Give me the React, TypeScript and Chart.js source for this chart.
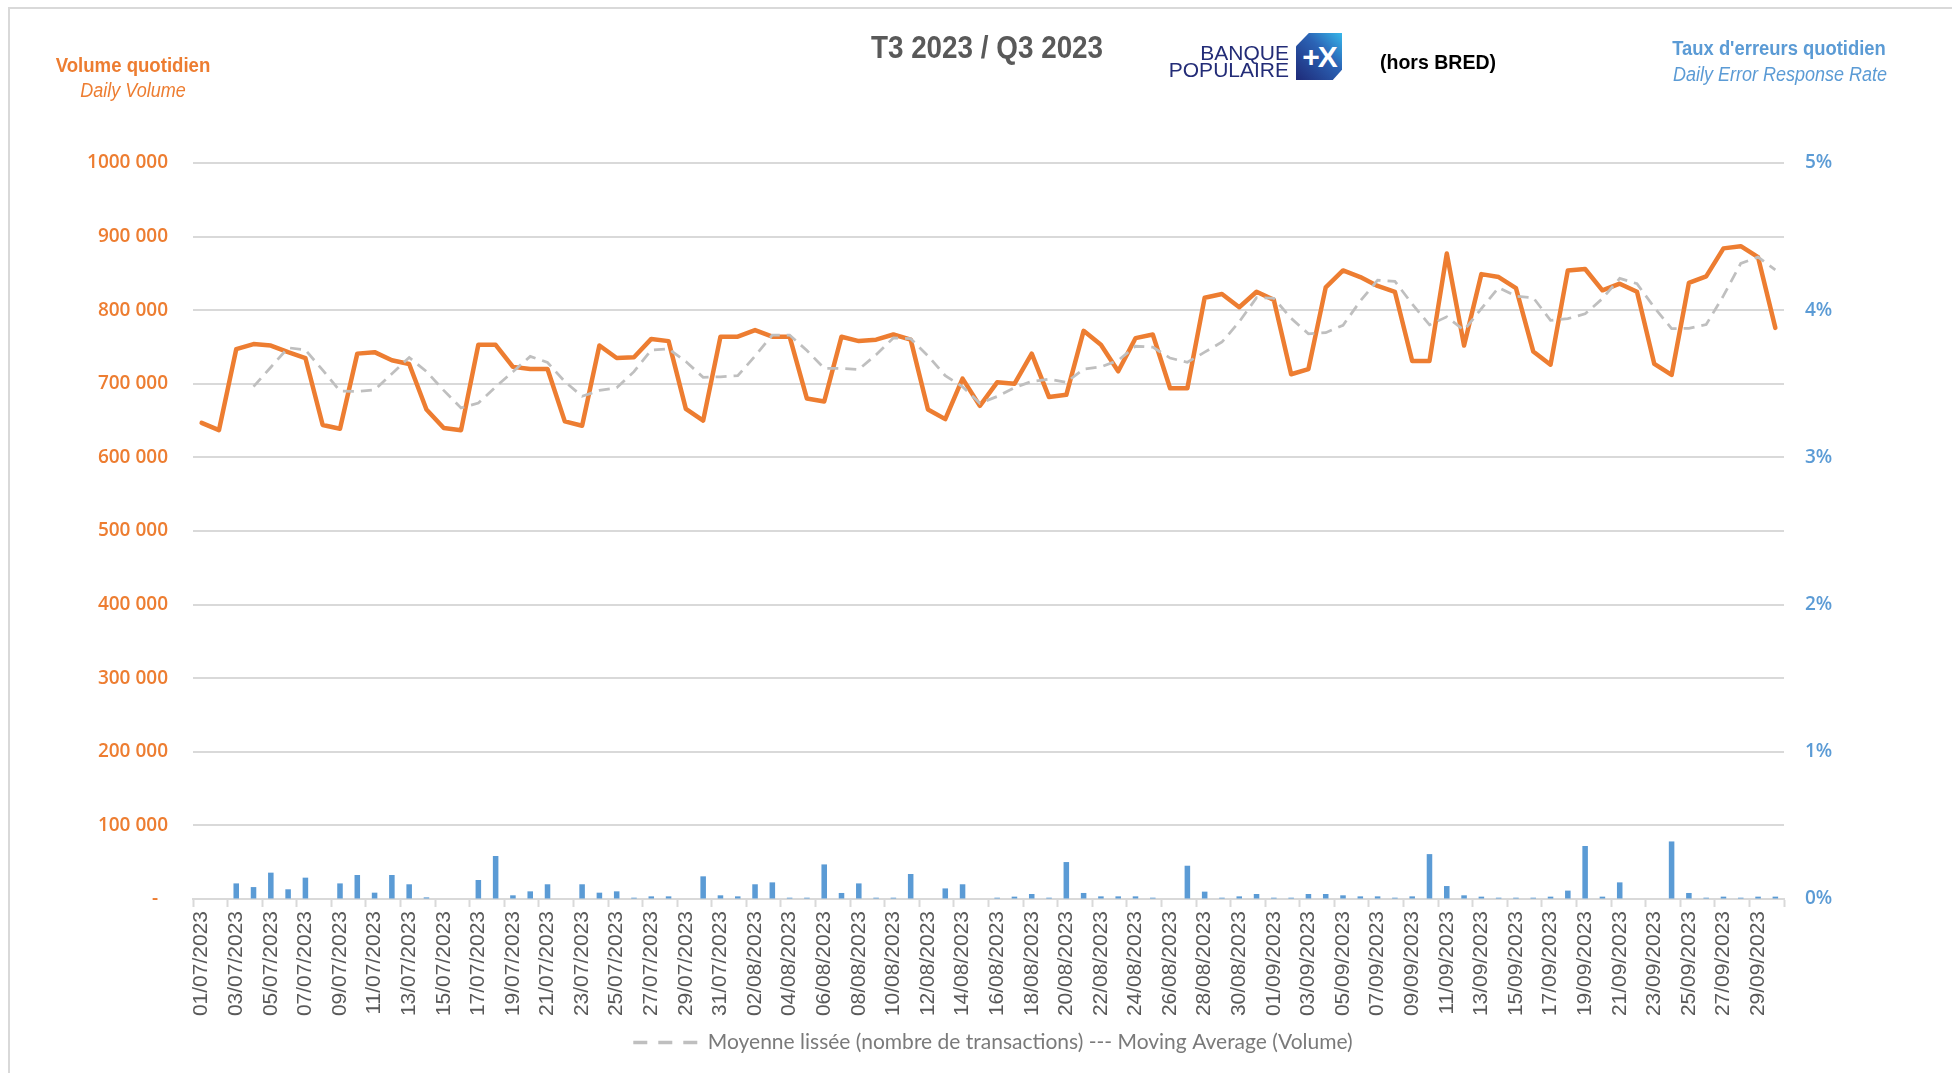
import React, { useEffect, useRef } from 'react';
import { Chart, registerables } from 'chart.js';
Chart.register(...registerables);

const dates: string[] = [
  '01/07/2023','02/07/2023','03/07/2023','04/07/2023','05/07/2023','06/07/2023','07/07/2023','08/07/2023','09/07/2023','10/07/2023',
  '11/07/2023','12/07/2023','13/07/2023','14/07/2023','15/07/2023','16/07/2023','17/07/2023','18/07/2023','19/07/2023','20/07/2023',
  '21/07/2023','22/07/2023','23/07/2023','24/07/2023','25/07/2023','26/07/2023','27/07/2023','28/07/2023','29/07/2023','30/07/2023',
  '31/07/2023','01/08/2023','02/08/2023','03/08/2023','04/08/2023','05/08/2023','06/08/2023','07/08/2023','08/08/2023','09/08/2023',
  '10/08/2023','11/08/2023','12/08/2023','13/08/2023','14/08/2023','15/08/2023','16/08/2023','17/08/2023','18/08/2023','19/08/2023',
  '20/08/2023','21/08/2023','22/08/2023','23/08/2023','24/08/2023','25/08/2023','26/08/2023','27/08/2023','28/08/2023','29/08/2023',
  '30/08/2023','31/08/2023','01/09/2023','02/09/2023','03/09/2023','04/09/2023','05/09/2023','06/09/2023','07/09/2023','08/09/2023',
  '09/09/2023','10/09/2023','11/09/2023','12/09/2023','13/09/2023','14/09/2023','15/09/2023','16/09/2023','17/09/2023','18/09/2023',
  '19/09/2023','20/09/2023','21/09/2023','22/09/2023','23/09/2023','24/09/2023','25/09/2023','26/09/2023','27/09/2023','28/09/2023',
  '29/09/2023','30/09/2023',
];

// Daily volume (number of transactions)
const dailyVolume: number[] = [
  647000, 637000, 747000, 754000, 752000, 743000, 735000, 644000, 639000, 741000,
  743000, 732000, 727000, 665000, 640000, 637000, 753000, 753000, 723000, 720000,
  720000, 649000, 643000, 752000, 735000, 736000, 761000, 758000, 666000, 650000,
  764000, 764000, 773000, 764000, 764000, 680000, 676000, 764000, 758000, 760000,
  767000, 760000, 665000, 652000, 707000, 670000, 702000, 700000, 741000, 682000,
  685000, 772000, 753000, 717000, 762000, 767000, 694000, 694000, 817000, 822000,
  804000, 825000, 814000, 713000, 720000, 831000, 854000, 845000, 833000, 825000,
  731000, 731000, 877000, 752000, 849000, 845000, 830000, 744000, 726000, 854000,
  856000, 827000, 836000, 825000, 727000, 712000, 837000, 846000, 884000, 887000,
  872000, 776000,
];

// Moving average (grey dashed)
const movingAverage: (number | null)[] = [
  null, null, null, 696250, 722500, 749000, 746000, 718500, 690250, 689750,
  691750, 713750, 735750, 716750, 691000, 667250, 673750, 695750, 716500, 737250,
  729000, 703000, 683000, 691000, 694750, 716500, 746000, 747500, 730250, 708750,
  709500, 711000, 737750, 766250, 766250, 745250, 721000, 721000, 719500, 739500,
  762250, 761250, 738000, 711000, 696000, 673500, 682750, 694750, 703250, 706250,
  702000, 720000, 723000, 731750, 751000, 749750, 735000, 729250, 743000, 756750,
  784250, 817000, 816250, 789000, 768000, 769500, 779500, 812500, 840750, 839250,
  808500, 780000, 791000, 772750, 802250, 830750, 819000, 817000, 786250, 788500,
  795000, 815750, 843250, 836000, 803750, 775000, 775250, 780500, 819750, 863500,
  872250, 854750,
];

// Daily error response rate (%)
const errorRate: number[] = [
  0, 0, 0.106, 0.081, 0.179, 0.066, 0.145, 0, 0.106, 0.163,
  0.043, 0.163, 0.100, 0.011, 0, 0, 0.129, 0.292, 0.025, 0.052,
  0.100, 0, 0.100, 0.043, 0.052, 0.009, 0.018, 0.018, 0, 0.154,
  0.025, 0.018, 0.100, 0.113, 0.009, 0.009, 0.235, 0.041, 0.106, 0.009,
  0.009, 0.170, 0, 0.072, 0.100, 0, 0.009, 0.016, 0.034, 0.009,
  0.251, 0.041, 0.018, 0.018, 0.018, 0.009, 0, 0.226, 0.050, 0.009,
  0.018, 0.034, 0.009, 0.009, 0.034, 0.034, 0.025, 0.018, 0.018, 0.009,
  0.018, 0.305, 0.088, 0.025, 0.016, 0.009, 0.009, 0.009, 0.016, 0.057,
  0.360, 0.016, 0.113, 0, 0, 0.391, 0.041, 0.009, 0.016, 0.009,
  0.016, 0.016,
];

const volumeTicks: number[] = [0, 100000, 200000, 300000, 400000, 500000, 600000, 700000, 800000, 900000, 1000000];
const rateTicks: number[] = [0, 1, 2, 3, 4, 5];

const titleText = 'T3 2023 / Q3 2023';
const leftTitle = 'Volume quotidien';
const leftSubtitle = 'Daily Volume';
const rightTitle = "Taux d'erreurs quotidien";
const rightSubtitle = 'Daily Error Response Rate';
const scopeText = '(hors BRED)';
const maLabel = 'Moyenne lissée (nombre de transactions) --- Moving Average (Volume)';

const ORANGE = '#ED7D31';
const BLUE = '#5B9BD5';
const GRID = '#D9D9D9';

const Txt = ({ x, y, sx = 1, style, children }: any) => (
  <div
    style={{
      position: 'absolute',
      left: x,
      top: y,
      transform: `translate(-50%, -50%) scaleX(${sx})`,
      whiteSpace: 'nowrap',
      lineHeight: 1,
      fontFamily: "'Liberation Sans', Arial, sans-serif",
      ...style,
    }}
  >
    {children}
  </div>
);

export default function App() {
  const ref = useRef<HTMLCanvasElement>(null);

  useEffect(() => {
    const canvas = ref.current!;
    const chart = new Chart(canvas, {
      type: 'bar',
      data: {
        labels: dates,
        datasets: [
          {
            type: 'line',
            label: maLabel,
            data: movingAverage,
            yAxisID: 'y',
            borderColor: '#BFBFBF',
            backgroundColor: '#BFBFBF',
            borderWidth: 2.75,
            borderDash: [11, 7],
            pointRadius: 0,
            tension: 0,
            spanGaps: false,
          } as any,
          {
            type: 'line',
            label: 'Volume quotidien',
            data: dailyVolume,
            yAxisID: 'y',
            borderColor: ORANGE,
            backgroundColor: ORANGE,
            borderWidth: 4.5,
            borderJoinStyle: 'round',
            borderCapStyle: 'round',
            pointRadius: 0,
            tension: 0,
          } as any,
          {
            type: 'bar',
            label: "Taux d'erreurs",
            data: errorRate,
            yAxisID: 'y1',
            backgroundColor: BLUE,
            borderWidth: 0,
            barPercentage: 0.32,
            categoryPercentage: 1,
          } as any,
        ],
      },
      options: {
        animation: false,
        responsive: false,
        devicePixelRatio: 1,
        layout: { padding: { left: 34, top: 163, right: 0, bottom: 10 } },
        plugins: {
          tooltip: { enabled: false },
          legend: {
            position: 'bottom',
            labels: {
              usePointStyle: true,
              pointStyle: 'line',
              pointStyleWidth: 64,
              color: '#7A7A7A',
              font: { family: 'Lato', size: 21 },
              padding: 10,
              filter: (item: any) => item.datasetIndex === 0,
              generateLabels: (c: any) => {
                const items = (Chart.defaults.plugins.legend.labels as any).generateLabels(c);
                items.forEach((it: any) => {
                  it.strokeStyle = '#BFBFBF';
                  it.fillStyle = '#BFBFBF';
                  it.lineWidth = 3.5;
                  it.lineDash = [14, 11];
                  it.pointStyle = 'line';
                });
                return items;
              },
            },
          },
        },
        scales: {
          x: {
            offset: true,
            grid: {
              display: true,
              drawOnChartArea: false,
              offset: true,
              tickLength: 8,
              tickWidth: 2,
              tickColor: (ctx: any) => (ctx.type !== 'tick' || ctx.index % 2 === 0 ? GRID : 'rgba(0,0,0,0)'),
            },
            border: { display: true, color: GRID, width: 2 },
            ticks: {
              autoSkip: false,
              maxRotation: 90,
              minRotation: 90,
              padding: 4,
              color: '#595959',
              font: { family: "'Liberation Sans', Arial", size: 21 },
              callback: function (this: any, v: any, i: number) {
                return i % 2 === 0 ? dates[i] : '';
              },
            },
            afterFit: (s: any) => {
              s.height = 123;
            },
          },
          y: {
            position: 'left',
            min: volumeTicks[0],
            max: volumeTicks[volumeTicks.length - 1],
            afterBuildTicks: (s: any) => {
              s.ticks = volumeTicks.map((v) => ({ value: v }));
            },
            ticks: {
              padding: 25,
              color: ORANGE,
              font: { family: "'Open Sans'", size: 19, weight: '600' },
              callback: (v: any) => (v === 0 ? '-  ' : `${v / 1000} 000`),
            },
            grid: { color: GRID, lineWidth: 2, drawTicks: false },
            border: { display: false },
            afterFit: (s: any) => {
              s.width = 159;
            },
          },
          y1: {
            position: 'right',
            min: rateTicks[0],
            max: rateTicks[rateTicks.length - 1],
            afterBuildTicks: (s: any) => {
              s.ticks = rateTicks.map((v) => ({ value: v }));
            },
            ticks: {
              padding: 21,
              color: BLUE,
              font: { family: "'Open Sans'", size: 19, weight: '600' },
              callback: (v: any) => `${v}%`,
            },
            grid: { drawOnChartArea: false, drawTicks: false },
            border: { display: false },
            afterFit: (s: any) => {
              s.width = 168;
            },
          },
        },
      } as any,
    });
    return () => chart.destroy();
  }, []);

  return (
    <div style={{ position: 'fixed', left: 0, top: 0, width: 1952, height: 1073, overflow: 'hidden', background: '#fff' }}>
      <div
        style={{
          position: 'absolute',
          left: 8,
          top: 7,
          width: 2100,
          height: 1200,
          borderLeft: '2px solid #D9D9D9',
          borderTop: '2px solid #D9D9D9',
        }}
      />
      <canvas ref={ref} width={1952} height={1073} style={{ position: 'absolute', left: 0, top: 0, width: 1952, height: 1073 }} />

      <Txt x={987} y={47} sx={0.87} style={{ fontSize: 32, fontWeight: 700, color: '#595959' }}>{titleText}</Txt>
      <Txt x={133} y={65} sx={0.93} style={{ fontSize: 20, fontWeight: 700, color: ORANGE }}>{leftTitle}</Txt>
      <Txt x={133} y={90} sx={0.9} style={{ fontSize: 20, fontStyle: 'italic', color: ORANGE }}>{leftSubtitle}</Txt>
      <Txt x={1779} y={48} sx={0.92} style={{ fontSize: 20, fontWeight: 700, color: BLUE }}>{rightTitle}</Txt>
      <Txt x={1780} y={74} sx={0.9} style={{ fontSize: 20, fontStyle: 'italic', color: BLUE }}>{rightSubtitle}</Txt>
      <Txt x={1438} y={61} sx={0.93} style={{ fontSize: 21, fontWeight: 700, color: '#000' }}>{scopeText}</Txt>

      {/* Banque Populaire logo */}
      <div
        style={{
          position: 'absolute',
          right: 1952 - 1289,
          top: 44,
          textAlign: 'right',
          fontFamily: "'Liberation Sans', Arial, sans-serif",
          fontSize: 21,
          lineHeight: '17px',
          color: '#232C77',
          whiteSpace: 'nowrap',
        }}
      >
        <div>BANQUE</div>
        <div>POPULAIRE</div>
      </div>
      <div
        style={{
          position: 'absolute',
          left: 1296,
          top: 33,
          width: 46,
          height: 47,
          background: 'linear-gradient(225deg, #36B7EA 0%, #2B63B5 40%, #1E2A78 100%)',
          clipPath: 'polygon(28% 0, 100% 0, 100% 78%, 80% 100%, 0 100%, 0 28%)',
          display: 'flex',
          alignItems: 'center',
          justifyContent: 'center',
          color: '#fff',
          fontFamily: "'Liberation Sans', Arial, sans-serif",
          fontWeight: 700,
          fontSize: 30,
          letterSpacing: -2,
        }}
      >
        +X
      </div>
    </div>
  );
}
